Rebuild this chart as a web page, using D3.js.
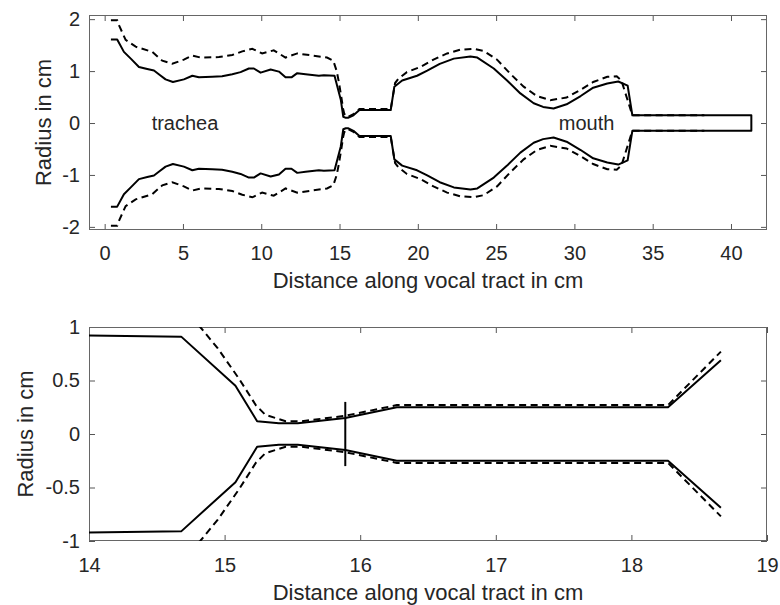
<!DOCTYPE html>
<html>
<head>
<meta charset="utf-8">
<script src="https://cdn.jsdelivr.net/npm/d3@7"></script>
<style>
  body { margin: 0; background: #fff; }
  svg { display: block; }
  text { font-family: "Liberation Sans", Arial, Helvetica, sans-serif; fill: #262626; }
</style>
</head>
<body>
<svg id="chart" width="780" height="605"></svg>
<script>
"use strict";

// whole tract, solid outline (upper radius, lower is the mirror)
var solid_x = [0.4, 0.8, 1.23, 1.7, 2.19, 2.72, 3.15, 3.5, 3.89, 4.36, 5.06, 5.6, 6.02, 6.87, 7.5,
  8.15, 8.68, 9.21, 9.53, 9.96, 10.6, 11.13, 11.55, 11.93, 12.3, 12.83, 13.68, 14.0, 14.68,
  15.08, 15.24, 15.4, 15.54, 15.89, 16.27, 18.27, 18.5, 19.0, 19.95, 20.6, 21.4, 22.3, 23.36,
  23.8, 24.85, 25.7, 26.55, 27.4, 28.0, 28.67, 29.5, 30.4, 31.2, 32.1, 32.8, 33.4, 33.7, 41.3];
var solid_r = [1.61, 1.61, 1.37, 1.23, 1.08, 1.04, 1.01, 0.93, 0.84, 0.79, 0.84, 0.91, 0.88, 0.89, 0.90,
  0.94, 0.98, 1.05, 1.05, 0.97, 1.03, 0.99, 0.88, 0.88, 0.96, 0.94, 0.91, 0.92, 0.91,
  0.45, 0.12, 0.10, 0.10, 0.15, 0.25, 0.25, 0.70, 0.82, 0.91, 1.01, 1.14, 1.24, 1.28,
  1.26, 1.05, 0.82, 0.57, 0.38, 0.31, 0.28, 0.36, 0.52, 0.68, 0.76, 0.80, 0.72, 0.15, 0.15];

// whole tract, dashed outline
var dash_x = [0.4, 0.8, 0.92, 1.34, 1.98, 3.04, 3.68, 4.32, 5.06, 5.6, 6.13, 7.3, 8.15, 8.79, 9.43,
  10.06, 10.8, 11.55, 12.3, 13.25, 14.2, 14.6, 14.82, 14.95, 15.11, 15.23, 15.3, 15.45, 15.57,
  15.89, 16.27, 18.27, 18.55, 18.75, 19.3, 20.17, 21.0, 21.87, 22.7, 23.57, 24.2, 25.06, 25.9,
  26.76, 27.6, 28.46, 29.5, 30.4, 31.2, 32.1, 32.7, 33.0, 33.7, 38.3];
var dash_r = [1.98, 1.98, 1.88, 1.60, 1.47, 1.37, 1.20, 1.14, 1.22, 1.30, 1.26, 1.27, 1.31, 1.38, 1.43,
  1.34, 1.40, 1.26, 1.34, 1.30, 1.26, 1.20, 1.00, 0.80, 0.51, 0.27, 0.18, 0.12, 0.12,
  0.17, 0.27, 0.27, 0.77, 0.85, 0.98, 1.08, 1.22, 1.34, 1.41, 1.43, 1.39, 1.22, 0.95,
  0.70, 0.52, 0.44, 0.49, 0.64, 0.79, 0.89, 0.90, 0.82, 0.15, 0.15];

// zoomed section (bottom panel)
var zoom_solid_x = [14.0, 14.68, 15.08, 15.24, 15.4, 15.54, 15.89, 16.27, 18.27, 18.66];
var zoom_solid_r = [0.92, 0.91, 0.45, 0.12, 0.10, 0.10, 0.15, 0.25, 0.25, 0.69];
var zoom_dash_x = [14.6, 14.82, 14.95, 15.11, 15.23, 15.3, 15.45, 15.57, 15.89, 16.27, 18.27, 18.66];
var zoom_dash_r = [1.20, 1.00, 0.80, 0.51, 0.27, 0.18, 0.12, 0.12, 0.17, 0.27, 0.27, 0.77];

// constriction marker (bottom panel)
var mark_x = [15.89, 15.89];
var mark_r = [-0.3, 0.3];

var top_xticks = [0, 5, 10, 15, 20, 25, 30, 35, 40];
var top_yticks = [-2, -1, 0, 1, 2];
var bot_xticks = [14, 15, 16, 17, 18, 19];
var bot_yticks = [-1, -0.5, 0, 0.5, 1];

var notes = ["trachea", "mouth"];
var notes_x = [3.0, 29.0];
var notes_r = [0, 0];

var xlabel = "Distance along vocal tract in cm";
var ylabel = "Radius in cm";

var to_points = function(xs, rs, sign) {
  var pts = [];
  for (var i = 0; i < xs.length; i++) pts.push({x: xs[i], r: sign * rs[i]});
  return pts;
};

var draw_panel = function(svg, p) {
  /*
    one MATLAB-like axes box with mirrored ticks
  */
  var x = d3.scaleLinear().domain(p.xdomain).range([p.left, p.left + p.width]);
  var y = d3.scaleLinear().domain(p.ydomain).range([p.top + p.height, p.top]);
  var fmt = function(d) { return String(d); };

  var g = svg.append("g");

  g.append("clipPath").attr("id", p.id + "_clip")
    .append("rect")
    .attr("x", p.left).attr("y", p.top)
    .attr("width", p.width).attr("height", p.height);

  var axis_style = function(a) {
    a.select(".domain").remove();
    a.selectAll(".tick line").attr("stroke", "#555").attr("stroke-width", 1);
    a.selectAll(".tick text").style("font-size", "20px").attr("fill", "#262626");
  };

  g.append("g")
    .attr("transform", "translate(0," + (p.top + p.height) + ")")
    .call(d3.axisBottom(x).tickValues(p.xticks).tickFormat(fmt).tickSize(-6).tickPadding(p.xpad))
    .call(axis_style);
  g.append("g")
    .attr("transform", "translate(0," + p.top + ")")
    .call(d3.axisTop(x).tickValues(p.xticks).tickFormat("").tickSize(-6))
    .call(axis_style);
  g.append("g")
    .attr("transform", "translate(" + p.left + ",0)")
    .call(d3.axisLeft(y).tickValues(p.yticks).tickFormat(fmt).tickSize(-6).tickPadding(9))
    .call(axis_style);
  g.append("g")
    .attr("transform", "translate(" + (p.left + p.width) + ",0)")
    .call(d3.axisRight(y).tickValues(p.yticks).tickFormat("").tickSize(-6))
    .call(axis_style);

  g.append("rect")
    .attr("x", p.left + 0.5).attr("y", p.top + 0.5)
    .attr("width", p.width - 1).attr("height", p.height - 1)
    .attr("fill", "none").attr("stroke", "#666").attr("stroke-width", 1);

  var line = d3.line().x(function(d) { return x(d.x); }).y(function(d) { return y(d.r); });
  var plot = g.append("g").attr("clip-path", "url(#" + p.id + "_clip)");

  // dashed: two separate branches
  [1, -1].forEach(function(s) {
    plot.append("path")
      .attr("d", line(to_points(p.dash_x, p.dash_r, s)))
      .attr("fill", "none").attr("stroke", "#000")
      .attr("stroke-width", 2).attr("stroke-dasharray", "7,4.5");
  });

  // solid: either upper then lower back (closes the lip end), or two open branches
  var branches;
  if (p.closed) {
    branches = [to_points(p.solid_x, p.solid_r, 1).concat(to_points(p.solid_x, p.solid_r, -1).reverse())];
  } else {
    branches = [to_points(p.solid_x, p.solid_r, 1), to_points(p.solid_x, p.solid_r, -1)];
  }
  branches.forEach(function(b) {
    plot.append("path")
      .attr("d", line(b))
      .attr("fill", "none").attr("stroke", "#000")
      .attr("stroke-width", 2).attr("stroke-linejoin", "round");
  });

  if (p.marker) {
    plot.append("path")
      .attr("d", line(to_points(mark_x, mark_r, 1)))
      .attr("fill", "none").attr("stroke", "#000").attr("stroke-width", 2);
  }

  if (p.notes) {
    g.selectAll(".note").data(notes).enter().append("text")
      .attr("x", function(d, i) { return x(notes_x[i]); })
      .attr("y", function(d, i) { return y(notes_r[i]); })
      .attr("dy", "0.35em")
      .style("font-size", "20px")
      .text(function(d) { return d; });
  }

  g.append("text")
    .attr("x", p.left + p.width / 2)
    .attr("y", p.xlab_y)
    .attr("text-anchor", "middle")
    .style("font-size", "22px")
    .text(xlabel);

  g.append("text")
    .attr("transform", "translate(" + p.ylab_x + "," + (p.top + p.height / 2) + ") rotate(-90)")
    .attr("text-anchor", "middle")
    .style("font-size", "22px")
    .text(ylabel);
};

var svg = d3.select("#chart");

draw_panel(svg, {
  id: "top", left: 89, top: 15, width: 678, height: 215,
  xdomain: [-1, 42.3], ydomain: [-2.06, 2.08],
  xticks: top_xticks, yticks: top_yticks, xpad: 16,
  solid_x: solid_x, solid_r: solid_r, dash_x: dash_x, dash_r: dash_r, closed: true,
  xlab_y: 288, ylab_x: 51, notes: true, marker: false
});

draw_panel(svg, {
  id: "bot", left: 89, top: 327, width: 678, height: 214,
  xdomain: [14, 19], ydomain: [-1, 1],
  xticks: bot_xticks, yticks: bot_yticks, xpad: 17,
  solid_x: zoom_solid_x, solid_r: zoom_solid_r, dash_x: zoom_dash_x, dash_r: zoom_dash_r, closed: false,
  xlab_y: 600, ylab_x: 33, notes: false, marker: true
});
</script>
</body>
</html>
